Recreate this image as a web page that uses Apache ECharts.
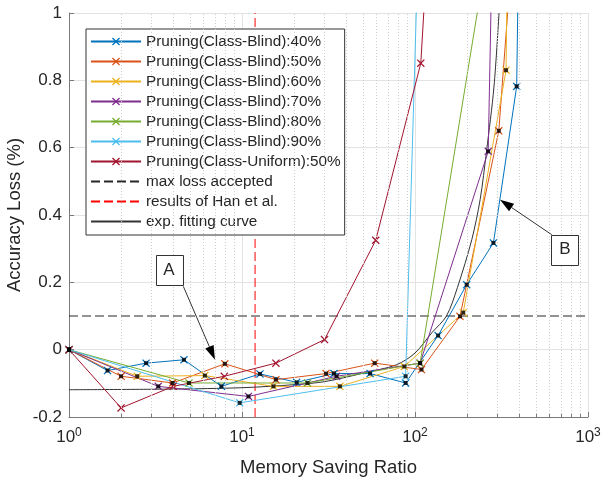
<!DOCTYPE html>
<html>
<head>
<meta charset="utf-8">
<script src="https://cdn.jsdelivr.net/npm/echarts@6/dist/echarts.min.js"></script>
<style>
  html, body { margin: 0; padding: 0; background: #ffffff; }
  #chart { width: 602px; height: 478px; }
</style>
</head>
<body>
<div id="chart"></div>
<script>
// Accuracy loss vs. memory saving ratio, [ratio, loss] pairs per pruning run
const blind40   = [[1,0],[1.67,-0.062],[2.79,-0.04],[4.62,-0.03],[7.6,-0.109],[12.7,-0.072],[20.7,-0.097],[34,-0.071],[55,-0.071],[88.3,-0.099],[136,0.042],[199,0.193],[284,0.317],[387,0.782],[405,1.5]];
const blind50   = [[1,0],[2.0,-0.079],[3.97,-0.099],[7.96,-0.042],[15.7,-0.089],[30.6,-0.071],[58.5,-0.04],[109,-0.059],[182,0.099],[305,0.65],[420,1.6]];
const blind60   = [[1,0],[2.48,-0.079],[6.1,-0.077],[15.2,-0.109],[36.8,-0.109],[86.8,-0.05],[190,0.11],[336,0.83],[350,1.6]];
const blind70   = [[1,0],[3.28,-0.109],[10.9,-0.139],[35.2,-0.079],[107,-0.04],[265,0.589],[287,1.5]];
const blind80   = [[1,0],[4.94,-0.099],[23.9,-0.099],[107,-0.04],[330,1.5]];
const blind90   = [[1,0],[9.7,-0.158],[88.3,-0.079],[110,1.6]];
const uniform50 = [[1,0],[2.0,-0.173],[4.0,-0.109],[7.9,-0.079],[15.7,-0.04],[30,0.03],[59.3,0.325],[108,0.851],[125,1.4]];

// Exponential fit through the class-blind runs
const fitX = [1, 4, 10, 20, 30, 50, 78, 100, 125, 152, 176, 213, 238, 259, 286, 306];
const fitY = [-0.119, -0.117, -0.113, -0.104, -0.095, -0.07, -0.045, -0.01, 0.05, 0.1, 0.185, 0.327, 0.446, 0.589, 0.78, 1.0];

// Reference levels
const maxLossAccepted = 0.1;
const hanRatio = 11.9;

// Axis ranges and ticks
const xRange = [1, 1000];
const yRange = [-0.2, 1];
const yStep = 0.2;
const xMinor = [2,3,4,5,6,7,8,9,20,30,40,50,60,70,80,90,200,300,400,500,600,700,800,900];

// Callouts: box label centre, arrow tail, arrow tip (data coordinates)
const calloutA = { text: 'A', box: [3.785, 0.2355], tail: [4.58, 0.188], tip: [6.98, -0.0297] };
const calloutB = { text: 'B', box: [736, 0.297], tail: [617, 0.3415], tip: [310, 0.4455] };

const FONT = '"Liberation Sans", Arial, Helvetica, sans-serif';
const TXT = '#262626';
const AXIS = '#7a7a7a';
const GRID = '#e3e3e3';
const X_MARK = 'path://M0,1.1L1.1,0L5,3.9L8.9,0L10,1.1L6.1,5L10,8.9L8.9,10L5,6.1L1.1,10L0,8.9L3.9,5Z';

const blindRuns = [
  ['Pruning(Class-Blind):40%', blind40, '#0072BD'],
  ['Pruning(Class-Blind):50%', blind50, '#D95319'],
  ['Pruning(Class-Blind):60%', blind60, '#EDB120'],
  ['Pruning(Class-Blind):70%', blind70, '#7E2F8E'],
  ['Pruning(Class-Blind):80%', blind80, '#77AC30'],
  ['Pruning(Class-Blind):90%', blind90, '#4DBEEE']
];

function runSeries(name, data, color) {
  return {
    name, type: 'line', data, color,
    symbol: X_MARK, symbolSize: 8, showAllSymbol: true,
    lineStyle: { width: 1, color },
    itemStyle: { color },
    clip: true, z: 3, animation: false, silent: true
  };
}

// Plain reference lines: no marker, also hidden in the legend sample
function plainLine(name, data, color, dash, extra) {
  return Object.assign({
    name, type: 'line', data, color,
    symbol: 'circle', showSymbol: false,
    itemStyle: { color, opacity: 0 },
    lineStyle: { width: 1, color, type: dash },
    clip: true, z: 2, animation: false, silent: true
  }, extra || {});
}

const series = blindRuns.map(r => runSeries(r[0], r[1], r[2]));
series.push(runSeries('Pruning(Class-Uniform):50%', uniform50, '#A2142F'));

series.push(plainLine('max loss accepted',
  [[xRange[0], maxLossAccepted], [xRange[1], maxLossAccepted]], '#262626', [9, 4]));
series.push(plainLine('results of Han et al.',
  [[hanRatio, yRange[0]], [hanRatio, yRange[1]]], '#ff0000', [9, 4]));
series.push(plainLine('exp. fitting curve',
  fitX.map((x, i) => [x, fitY[i]]), '#333333', 'solid', { smooth: 0.3 }));

// Black dots on the runs used for the fit
const fitPoints = [];
blindRuns.forEach(r => r[1].forEach(p => { if (p[1] <= yRange[1]) fitPoints.push(p); }));
series.push({
  name: 'fit points', type: 'scatter', data: fitPoints,
  symbol: 'rect', symbolSize: 4, itemStyle: { color: '#000000' },
  clip: true, z: 5, animation: false, silent: true
});

// Minor log grid (dotted) and minor ticks on the ratio axis
series.push({
  name: 'minor grid', type: 'line', data: [], symbol: 'none', silent: true, animation: false,
  markLine: {
    silent: true, symbol: 'none', animation: false, label: { show: false },
    lineStyle: { color: '#cfcfcf', type: [1, 2], width: 1 },
    data: xMinor.map(v => ({ xAxis: v }))
  }
});
series.push({
  name: 'minor ticks', type: 'line', data: [], symbol: 'none', silent: true, animation: false,
  markLine: {
    silent: true, symbol: 'none', animation: false, label: { show: false },
    lineStyle: { color: AXIS, type: 'solid', width: 1 },
    data: xMinor.map(v => [{ coord: [v, yRange[0]] }, { coord: [v, yRange[0] + 0.009] }])
  }
});

const legendNames = blindRuns.map(r => r[0]).concat(['Pruning(Class-Uniform):50%', 'max loss accepted', 'results of Han et al.', 'exp. fitting curve']);

const chart = echarts.init(document.getElementById('chart'), null, { renderer: 'canvas' });
chart.setOption({
  animation: false,
  backgroundColor: '#ffffff',
  textStyle: { fontFamily: FONT },
  grid: { left: 69, right: 14, top: 13, bottom: 61, containLabel: false, outerBoundsMode: 'none' },
  legend: {
    data: legendNames,
    orient: 'vertical', left: 86, top: 29,
    padding: [5, 4, 6, 4], itemGap: 5, itemWidth: 50, itemHeight: 10,
    backgroundColor: '#ffffff', borderColor: '#333333', borderWidth: 1, borderRadius: 0,
    selectedMode: false,
    textStyle: { fontFamily: FONT, fontSize: 15.3, color: TXT, lineHeight: 15 }
  },
  xAxis: {
    type: 'log', logBase: 10, min: xRange[0], max: xRange[1],
    name: 'Memory Saving Ratio', nameLocation: 'middle', nameGap: 41,
    nameTextStyle: { fontFamily: FONT, fontSize: 18.5, color: TXT },
    axisLine: { show: true, onZero: false, lineStyle: { color: AXIS, width: 1 } },
    axisTick: { show: true, inside: true, length: 5, lineStyle: { color: AXIS } },
    splitLine: { show: true, lineStyle: { color: GRID, width: 1 } },
    axisLabel: {
      margin: 10, color: TXT,
      formatter: v => '{b|10}{s|' + Math.round(Math.log10(v)) + '}',
      rich: {
        b: { fontFamily: FONT, fontSize: 17, color: TXT },
        s: { fontFamily: FONT, fontSize: 12, color: TXT, padding: [0, 0, 8, 0] }
      }
    }
  },
  yAxis: {
    type: 'value', min: yRange[0], max: yRange[1], interval: yStep,
    name: 'Accuracy Loss (%)', nameLocation: 'middle', nameGap: 45, nameMoveOverlap: false,
    nameTextStyle: { fontFamily: FONT, fontSize: 18.5, color: TXT },
    axisLine: { show: true, onZero: false, lineStyle: { color: AXIS, width: 1 } },
    axisTick: { show: true, inside: true, length: 5, lineStyle: { color: AXIS } },
    splitLine: { show: true, lineStyle: { color: GRID, width: 1 } },
    axisLabel: {
      margin: 7, color: TXT, fontFamily: FONT, fontSize: 17,
      formatter: v => String(Number(v.toFixed(1)))
    }
  },
  series
});

// Callout boxes with arrows, placed through the grid's coordinate system
function toPx(p) { return chart.convertToPixel({ gridIndex: 0 }, p); }
function callout(c) {
  const box = toPx(c.box), tail = toPx(c.tail), tip = toPx(c.tip);
  const w = 27, h = 30, headLen = 14, headHalf = 4.5;
  const dx = tip[0] - tail[0], dy = tip[1] - tail[1];
  const len = Math.hypot(dx, dy), ux = dx / len, uy = dy / len;
  const bx = tip[0] - ux * headLen, by = tip[1] - uy * headLen;
  return [
    { type: 'line', z: 20, shape: { x1: tail[0], y1: tail[1], x2: bx, y2: by }, style: { stroke: '#333333', lineWidth: 1 } },
    { type: 'polygon', z: 20, shape: { points: [[tip[0], tip[1]], [bx - uy * headHalf, by + ux * headHalf], [bx + uy * headHalf, by - ux * headHalf]] }, style: { fill: '#000000' } },
    { type: 'rect', z: 20, shape: { x: Math.round(box[0] - w / 2) + 0.5, y: Math.round(box[1] - h / 2) + 0.5, width: w, height: h }, style: { fill: '#ffffff', stroke: '#333333', lineWidth: 1 } },
    { type: 'text', z: 21, x: box[0], y: box[1], style: { text: c.text, fontFamily: FONT, fontSize: 17, fill: TXT, align: 'center', verticalAlign: 'middle' } }
  ];
}
chart.setOption({ graphic: callout(calloutA).concat(callout(calloutB)) });
</script>
</body>
</html>
